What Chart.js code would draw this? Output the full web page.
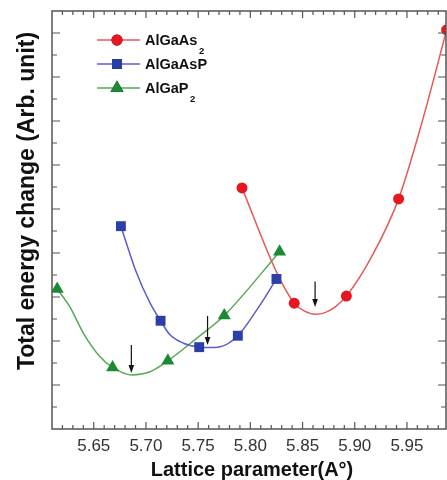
<!DOCTYPE html>
<html><head><meta charset="utf-8">
<script src="https://cdn.jsdelivr.net/npm/chart.js@4.4.0/dist/chart.umd.min.js"></script>
<style>html,body{margin:0;padding:0;background:#fff;}canvas{display:block;}</style>
</head><body>
<canvas id="c" width="447" height="480" style="width:447px;height:480px"></canvas>
<script>
// ---- data ----
const seriesNames = ['AlGaAs', 'AlGaAsP', 'AlGaP'];
const seriesSubs = ['2', '', '2'];

// measured points (markers)
const redX   = [5.790, 5.840, 5.890, 5.940, 5.986];
const redY   = [5.48, 2.86, 3.02, 5.23, 9.07];
const blueX  = [5.674, 5.712, 5.749, 5.786, 5.823];
const blueY  = [4.61, 2.46, 1.86, 2.12, 3.41];
const greenX = [5.613, 5.666, 5.719, 5.773, 5.826];
const greenY = [3.18, 1.40, 1.55, 2.58, 4.03];

// fitted curves
const redFitX   = [5.790, 5.823, 5.840, 5.850, 5.860, 5.869, 5.879, 5.890, 5.915, 5.940, 5.963, 5.986];
const redFitY   = [5.48, 3.57, 2.86, 2.68, 2.61, 2.64, 2.77, 3.02, 3.95, 5.23, 7.02, 9.07];
const blueFitX  = [5.674, 5.688, 5.702, 5.712, 5.721, 5.734, 5.749, 5.756, 5.769, 5.786, 5.804, 5.823];
const blueFitY  = [4.61, 3.61, 2.86, 2.46, 2.14, 1.95, 1.86, 1.85, 1.87, 2.12, 2.70, 3.41];
const greenFitX = [5.613, 5.625, 5.638, 5.654, 5.666, 5.684, 5.702, 5.719, 5.746, 5.773, 5.826];
const greenFitY = [3.18, 2.78, 2.18, 1.64, 1.40, 1.23, 1.30, 1.55, 2.05, 2.58, 4.03];

// minimum arrows
const arrowX   = [5.684, 5.757, 5.860];
const arrowTop = [1.91, 2.57, 3.35];
const arrowTip = [1.27, 1.91, 2.77];

// axes
const xMin = 5.608, xMax = 5.9854, xStep = 0.01;
const yMin = 0, yMax = 9.5, yStep = 0.5;
const xTitle = 'Lattice parameter(A°)';
const yTitle = 'Total energy change (Arb. unit)';

const markerColors = ['#e8161f', '#2b3fa8', '#1c8a35'];
const lineColors   = ['#e45a5a', '#5d5dcc', '#55aa55'];
const markerStyles = ['circle', 'rect', 'triangle'];
const markerRadius = [5.5, 7, 7.5];

const zip = (xs, ys) => xs.map((x, i) => ({x, y: ys[i]}));

function fitSet(xs, ys, i) {
  return {data: zip(xs, ys), borderColor: lineColors[i], borderWidth: 1.5, pointRadius: 0,
    showLine: true, cubicInterpolationMode: 'monotone', fill: false, order: 2};
}
function markSet(xs, ys, i) {
  return {data: zip(xs, ys), backgroundColor: markerColors[i], borderColor: markerColors[i],
    borderWidth: 0, pointStyle: markerStyles[i], pointRadius: markerRadius[i], showLine: false, order: 1};
}

const FONT = "'Liberation Sans', Arial, sans-serif";

const framePlugin = {
  id: 'frame',
  afterDatasetsDraw(chart) {
    const ctx = chart.ctx, a = chart.chartArea, xs = chart.scales.x, ys = chart.scales.y;
    ctx.save();
    // arrows
    ctx.strokeStyle = '#111'; ctx.fillStyle = '#111'; ctx.lineWidth = 1.2;
    arrowX.forEach((x, i) => {
      const px = xs.getPixelForValue(x), p1 = ys.getPixelForValue(arrowTop[i]), p2 = ys.getPixelForValue(arrowTip[i]);
      ctx.beginPath(); ctx.moveTo(px, p1); ctx.lineTo(px, p2 - 6); ctx.stroke();
      ctx.beginPath(); ctx.moveTo(px - 2.8, p2 - 8); ctx.lineTo(px + 2.8, p2 - 8); ctx.lineTo(px, p2); ctx.closePath(); ctx.fill();
    });
    // frame
    ctx.strokeStyle = '#555'; ctx.lineWidth = 1.5;
    ctx.strokeRect(a.left, a.top, a.right - a.left, a.bottom - a.top);
    ctx.lineWidth = 1.2;
    xs.ticks.forEach(t => {
      const px = xs.getPixelForValue(t.value);
      if (px <= a.left + 1 || px >= a.right - 1) return;
      const major = Math.round(t.value * 100) % 5 === 0;
      const L = major ? 7 : 4;
      ctx.beginPath(); ctx.moveTo(px, a.bottom); ctx.lineTo(px, a.bottom - L);
      ctx.moveTo(px, a.top); ctx.lineTo(px, a.top + L); ctx.stroke();
    });
    ys.ticks.forEach(t => {
      const py = ys.getPixelForValue(t.value);
      if (py >= a.bottom - 1 || py <= a.top + 1) return;
      const major = Math.abs(t.value - Math.round(t.value)) < 1e-6;
      const L = major ? 8 : 5;
      ctx.beginPath(); ctx.moveTo(a.left, py); ctx.lineTo(a.left + L, py);
      ctx.moveTo(a.right, py); ctx.lineTo(a.right - L, py); ctx.stroke();
    });
    // legend
    const rows = [40, 64, 88];
    rows.forEach((ry, i) => {
      ctx.strokeStyle = lineColors[i]; ctx.lineWidth = 1.5;
      ctx.beginPath(); ctx.moveTo(97, ry); ctx.lineTo(140, ry); ctx.stroke();
      Chart.helpers.drawPoint(ctx, {pointStyle: markerStyles[i], radius: markerRadius[i], rotation: 0, borderWidth: 0}, 117, ry);
      ctx.fillStyle = markerColors[i]; ctx.fill();
      ctx.fillStyle = '#111'; ctx.font = 'bold 14.5px ' + FONT; ctx.textAlign = 'left'; ctx.textBaseline = 'alphabetic';
      ctx.fillText(seriesNames[i], 145, ry + 5);
      if (seriesSubs[i]) {
        const w = ctx.measureText(seriesNames[i]).width;
        ctx.font = 'bold 9.5px ' + FONT;
        ctx.fillText(seriesSubs[i], 145 + w + 1.5, ry + 14);
      }
    });
    // axis titles
    ctx.fillStyle = '#111';
    ctx.font = 'bold 20px ' + FONT; ctx.textAlign = 'center'; ctx.textBaseline = 'alphabetic';
    ctx.fillText(xTitle, 252, 476);
    ctx.save();
    ctx.translate(34, 201); ctx.rotate(-Math.PI / 2);
    ctx.font = 'bold 23px ' + FONT;
    ctx.fillText(yTitle, 0, 0);
    ctx.restore();
    ctx.restore();
  }
};

new Chart(document.getElementById('c'), {
  type: 'scatter',
  data: {datasets: [
    markSet(redX, redY, 0), markSet(blueX, blueY, 1), markSet(greenX, greenY, 2),
    fitSet(redFitX, redFitY, 0), fitSet(blueFitX, blueFitY, 1), fitSet(greenFitX, greenFitY, 2)
  ]},
  options: {
    responsive: false, animation: false, devicePixelRatio: 1,
    layout: {autoPadding: false, padding: {top: 11, right: 1, left: 0, bottom: 0}},
    plugins: {legend: {display: false}, tooltip: {enabled: false}},
    scales: {
      x: {type: 'linear', min: xMin, max: xMax, bounds: 'data',
        grid: {display: false, drawTicks: false}, border: {display: false},
        afterFit(s) { s.height = 51; s.paddingLeft = 0; s.paddingRight = 0; },
        ticks: {stepSize: xStep, includeBounds: false, autoSkip: false, maxRotation: 0, padding: 7,
          maxTicksLimit: 100, color: '#333', font: {family: FONT, size: 17},
          callback: v => (Math.round(v * 100) % 5 === 0 ? v.toFixed(2) : '')}},
      y: {type: 'linear', min: yMin, max: yMax, bounds: 'data',
        grid: {display: false, drawTicks: false}, border: {display: false},
        afterFit(s) { s.width = 52; s.paddingTop = 0; s.paddingBottom = 0; },
        ticks: {stepSize: yStep, display: false, includeBounds: false, maxTicksLimit: 100}}
    }
  },
  plugins: [framePlugin]
});
</script>
</body></html>
